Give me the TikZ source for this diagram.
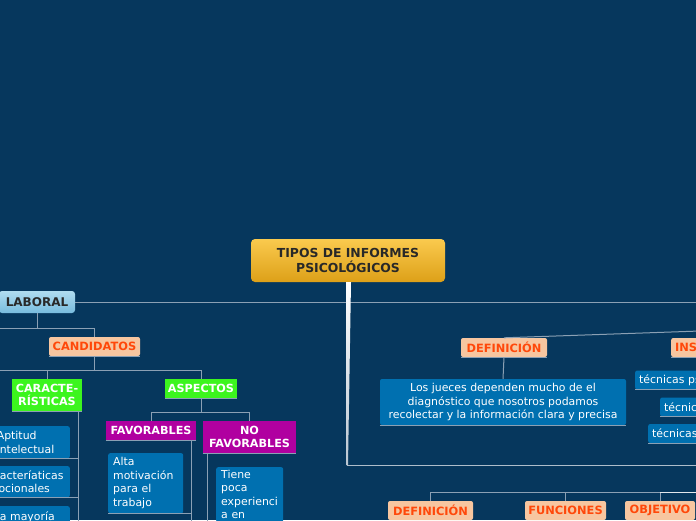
\documentclass[tikz,border=0pt]{standalone}
\usepackage{fontspec}
\setmainfont{DejaVu Sans}
\usetikzlibrary{positioning}

\definecolor{bgblue}{RGB}{6,55,93}
\definecolor{boxblue}{RGB}{0,112,176}
\definecolor{salmon}{RGB}{247,198,160}
\definecolor{redorange}{RGB}{255,72,10}
\definecolor{limegreen}{RGB}{60,245,30}
\definecolor{plum}{RGB}{176,0,160}
\definecolor{linegray}{RGB}{139,160,180}
\definecolor{goldtop}{RGB}{250,202,78}
\definecolor{goldbot}{RGB}{221,160,24}
\definecolor{skytop}{RGB}{175,220,240}
\definecolor{skybot}{RGB}{120,188,222}
\definecolor{darktext}{RGB}{40,40,40}

\tikzset{
  conn/.style={draw=linegray,line width=1pt},
  topic/.style={rounded corners=4pt,top color=goldtop,bottom color=goldbot,text=darktext,
    font=\fontsize{12.4}{14.5}\selectfont\bfseries,align=center,minimum width=194pt,minimum height=43pt,inner sep=0pt},
  branch/.style={rounded corners=3pt,top color=skytop,bottom color=skybot,text=darktext,
    font=\fontsize{12}{14}\selectfont\bfseries,minimum height=22pt,inner sep=0pt},
  cat/.style={rounded corners=2pt,fill=salmon,text=redorange,
    font=\fontsize{11.4}{13}\selectfont\bfseries,minimum height=19pt,inner sep=0pt},
  greenbox/.style={fill=limegreen,text=white,font=\fontsize{11.2}{13}\selectfont\bfseries,
    align=center,minimum height=19pt,inner sep=0pt},
  purplebox/.style={fill=plum,text=white,font=\fontsize{11.2}{13}\selectfont\bfseries,
    align=center,minimum height=19pt,inner sep=0pt},
  leaf/.style={rounded corners=2pt,fill=boxblue,text=white,font=\fontsize{10.9}{13.5}\selectfont,
    align=left,inner ysep=3pt,inner xsep=5pt},
}

\begin{document}
\begin{tikzpicture}[x=1pt,y=-1pt]
\useasboundingbox (0,0) rectangle (696,520);
\fill[bgblue] (0,0) rectangle (696,520);
\clip (0,0) rectangle (696,520);

% central topic
\node[topic] (title) at (348,260.5) {TIPOS DE INFORMES\\PSICOLÓGICOS};

% laboral branch
\node[branch,minimum width=76pt] (laboral) at (37,302) {LABORAL};
\node[cat,minimum width=91pt] (candidatos) at (94.5,346.5) {CANDIDATOS};
\node[greenbox,minimum width=70pt,minimum height=32pt] (caract) at (47,395) {CARACTE-\\RÍSTICAS};
\node[greenbox,minimum width=72pt] (aspectos) at (201,388.5) {ASPECTOS};
\node[purplebox,minimum width=90pt] (favorables) at (151,430.5) {FAVORABLES};
\node[purplebox,minimum width=93pt,minimum height=32pt] (nofav) at (249.5,437) {NO\\FAVORABLES};

\node[leaf,anchor=north east,text width=68pt,minimum height=32pt] (aptitud) at (70,426) {Aptitud\\intelectual};
\node[leaf,anchor=north east,text width=83.6pt,minimum height=31pt] (caracteriaticas) at (70,466) {Caracteríaticas\\emocionales};
\node[leaf,anchor=north east,text width=71pt,minimum height=22pt] (mayoria) at (70,506) {La mayoría};
\node[leaf,anchor=north west,text width=65pt,minimum height=60pt] (alta) at (108,453) {Alta\\motivación\\para el\\trabajo};
\node[leaf,anchor=north west,text width=57pt,inner ysep=3pt] (tiene) at (216,467) {Tiene\\poca\\experienci\\a en};

% right side
\node[cat,minimum width=86pt] (def1) at (504,347.5) {DEFINICIÓN};
\node[leaf,align=center,minimum width=246pt,minimum height=46pt] (losjueces) at (503,402)
  {Los jueces dependen mucho de el\\diagnóstico que nosotros podamos\\recolectar y la información clara y precisa};
\node[cat,anchor=west,text width=60pt,align=left,inner xsep=4pt] (ins) at (671,347.5) {INS};
\node[leaf,anchor=west,text width=100pt,inner xsep=4pt,inner ysep=2pt,minimum height=19pt] (tec1) at (635,380) {técnicas ps};
\node[leaf,anchor=west,text width=100pt,inner xsep=4pt,inner ysep=2pt,minimum height=19pt] (tec2) at (660,407) {técnic};
\node[leaf,anchor=west,text width=100pt,inner xsep=4pt,inner ysep=2pt,minimum height=19pt] (tec3) at (648,433.5) {técnicas};

% bottom row
\node[cat,minimum width=85pt] (def2) at (430.5,510.5) {DEFINICIÓN};
\node[cat,minimum width=81pt] (funciones) at (565.5,510.5) {FUNCIONES};
\node[cat,minimum width=70pt] (objetivo) at (660,510.5) {OBJETIVO};

% free ends off the page
\coordinate (offL1) at (-5,328);
\coordinate (offL2) at (-5,370);
\coordinate (offR1) at (700,302);
\coordinate (offR2) at (700,331);
\coordinate (offR3) at (700,465);
\coordinate (offR4) at (700,492);
\coordinate (stemend) at (348,465);

% underlines
\foreach \n in {candidatos,caract,aspectos,favorables,nofav,aptitud,caracteriaticas,alta,
  def1,losjueces,ins,tec1,tec2,tec3}
  \draw[conn,line width=0.8pt] (\n.south west) -- (\n.south east);

% connectors
\draw[conn] (laboral.east) -- (offR1);
\draw[conn] (laboral.south) -- (laboral.south |- offL1);
\draw[conn] (offL1) -| (candidatos.north);
\draw[conn] (candidatos.south) -- (candidatos.south |- offL2);
\draw[conn] (offL2) -| (aspectos.north);
\draw[conn] (caract.north) -- (caract.north |- offL2);
\draw[conn] ([xshift=-4pt]caract.south east) -- ++(0,120);
\foreach \n in {aptitud,caracteriaticas}
  \draw[conn] (\n.south east) -- ++(8,0);
\draw[conn] (aspectos.south) -- ++(0,14) coordinate (asp1);
\draw[conn] (favorables.north) |- (asp1) -| (nofav.north);
\draw[conn] ([xshift=-5pt]favorables.south east) -- ++(0,90);
\draw[conn] (alta.south east) -- ++(8,0);
\draw[conn] ([xshift=5pt]nofav.south west) -- ++(0,80);

\draw[conn] (def1.north) -- (offR2);
\draw[conn] (def1.south) -- (losjueces.north);

\draw[conn] (def2.north) |- (offR4);
\draw[conn] (funciones.north) -- (funciones.north |- offR4);
\draw[conn] (objetivo.north) -- (objetivo.north |- offR4);
\draw[conn,draw=white!75!linegray] (objetivo.north |- offR4) -- (offR4);

% main stem
\draw[conn,draw=linegray!70!white] ([xshift=-1.5pt]stemend) -- (offR3);
\shade[top color=white,bottom color=linegray!60!white]
  ([xshift=-2pt]title.south) -- ([xshift=3pt]title.south) -- (stemend) -- ([xshift=-2pt]stemend) -- cycle;
\end{tikzpicture}
\end{document}
